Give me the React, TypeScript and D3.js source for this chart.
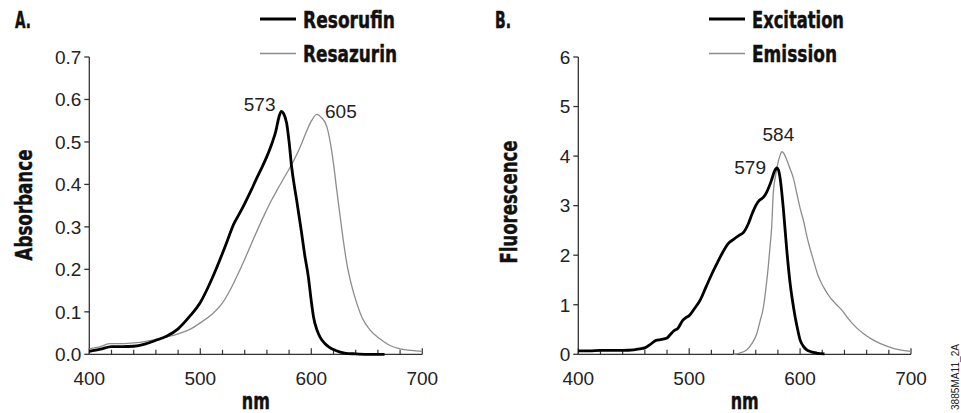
import React from "react";
import * as d3 from "d3";

const resorufinNm = [400, 410, 420, 430, 440, 450, 460, 470, 480, 490, 500, 510, 520, 525, 530, 535, 540, 546, 550, 555, 560, 565, 568, 571, 573, 575, 577.8, 580, 582.3, 584.5, 586.8, 589, 591.3, 594, 597.3, 600, 602, 605, 608, 612, 616, 622, 630, 640, 650, 666];
const resorufinAbs = [0.007, 0.012, 0.018, 0.018, 0.019, 0.024, 0.033, 0.043, 0.06, 0.088, 0.122, 0.175, 0.238, 0.272, 0.306, 0.33, 0.355, 0.387, 0.41, 0.437, 0.466, 0.5, 0.525, 0.56, 0.572, 0.567, 0.544, 0.5, 0.441, 0.4, 0.363, 0.325, 0.285, 0.235, 0.183, 0.125, 0.088, 0.058, 0.04, 0.026, 0.017, 0.009, 0.003, 0.001, 0, 0];

const resazurinNm = [400, 410, 418, 425, 440, 450, 460, 470, 480, 490, 500, 510, 520, 527, 535, 540, 545, 551, 558, 564, 569, 576, 584, 590, 596, 600, 605, 609, 614, 617, 620, 623, 626, 629, 632, 636, 641, 646, 653, 662, 670, 680, 690, 700];
const resazurinAbs = [0.013, 0.018, 0.025, 0.025, 0.027, 0.03, 0.035, 0.041, 0.048, 0.058, 0.074, 0.093, 0.121, 0.152, 0.195, 0.224, 0.254, 0.29, 0.33, 0.362, 0.386, 0.418, 0.455, 0.488, 0.527, 0.549, 0.565, 0.558, 0.536, 0.5, 0.449, 0.385, 0.324, 0.265, 0.214, 0.165, 0.12, 0.085, 0.057, 0.036, 0.022, 0.013, 0.009, 0.007];

const excitationNm = [400, 410, 420, 430, 440, 450, 455, 460, 465, 470, 475, 480, 483, 486, 490, 494, 497, 500, 505, 510, 515, 520, 525, 530, 535, 540, 545, 549, 553, 557, 560, 563, 567, 570, 574, 577, 579, 580.5, 582, 585, 588, 591, 593, 595.5, 598, 600, 603, 606, 610, 615, 622];
const excitationFl = [0.07, 0.07, 0.08, 0.08, 0.08, 0.09, 0.11, 0.13, 0.2, 0.28, 0.3, 0.33, 0.4, 0.47, 0.53, 0.68, 0.74, 0.78, 0.93, 1.1, 1.35, 1.6, 1.83, 2.05, 2.23, 2.32, 2.4, 2.46, 2.62, 2.85, 3.0, 3.1, 3.17, 3.28, 3.5, 3.7, 3.76, 3.72, 3.55, 2.91, 2.1, 1.43, 1.1, 0.76, 0.48, 0.29, 0.16, 0.09, 0.05, 0.025, 0.01];

const emissionNm = [540, 545, 552, 556, 561, 564, 567, 569, 571.3, 573, 574.4, 575.8, 578, 580, 582, 583.5, 585.5, 588, 591, 594, 597, 600, 603, 607, 612, 616, 621, 627, 633, 638, 642, 648, 657, 665, 672, 680, 690, 700];
const emissionFl = [0.0, 0.02, 0.09, 0.2, 0.42, 0.68, 0.96, 1.3, 1.77, 2.2, 2.58, 3.25, 3.62, 3.86, 4.02, 4.09, 4.05, 3.92, 3.74, 3.55, 3.25, 2.95, 2.7, 2.3, 1.9, 1.6, 1.36, 1.15, 1.0, 0.88, 0.76, 0.6, 0.42, 0.3, 0.22, 0.15, 0.09, 0.06];

const absTicks = [0, 0.1, 0.2, 0.3, 0.4, 0.5, 0.6, 0.7];
const flTicks = [0, 1, 2, 3, 4, 5, 6];
const nmLabels = [400, 500, 600, 700];

const BOLD = "'DejaVu Sans Condensed', 'DejaVu Sans', sans-serif";
const REG = "'Liberation Sans', Arial, sans-serif";
const AXIS = "#333";
const TEXT = "#222";
const GREY = "#8c8c8c";

type Series = { nm: number[]; v: number[]; color: string; width: number; name: string; nameLen: number };

function Bold(p: { x: number; y: number; len: number; children: string; transform?: string; anchor?: string }) {
  return (
    <text x={p.x} y={p.y} transform={p.transform} textAnchor={(p.anchor || "start") as any} fontFamily={BOLD} fontWeight="bold" fontSize={23} fill="#111" stroke="#111" strokeWidth={0.45} textLength={p.len} lengthAdjust="spacingAndGlyphs">
      {p.children}
    </text>
  );
}

function Panel(props: {
  x0: number; x1: number; y0: number; y1: number;
  yMax: number; yTicks: number[]; yFmt: (v: number) => string;
  yLabel: string; yLabelX: number; yLabelLen: number; yLabelY: number; letter: string; letterX: number;
  legendX: number; series: Series[];
  peaks: { text: string; x: number; y: number; anchor: string }[];
}) {
  const x = d3.scaleLinear().domain([400, 700]).range([props.x0, props.x1]);
  const y = d3.scaleLinear().domain([0, props.yMax]).range([props.y0, props.y1]);
  const xTicks = d3.range(400, 701, 20);
  const line = (s: Series) =>
    d3.line<number>().x((_, i) => x(s.nm[i])).y((d) => y(d)).curve(d3.curveMonotoneX)(s.v) || "";
  return (
    <g>
      <Bold x={props.letterX} y={28} len={16}>{props.letter}</Bold>
      {props.series.map((s, i) => (
        <g key={"lg" + i}>
          <line x1={props.legendX} x2={props.legendX + 36} y1={19 + i * 34.5} y2={19 + i * 34.5} stroke={s.color} strokeWidth={s.width} />
          <Bold x={props.legendX + 43} y={27.5 + i * 34.5} len={s.nameLen}>{s.name}</Bold>
        </g>
      ))}
      <line x1={props.x0} x2={props.x0} y1={y(0)} y2={y(props.yMax)} stroke={AXIS} strokeWidth={1.3} />
      {props.yTicks.map((t) => (
        <g key={"yt" + t}>
          <line x1={props.x0 - 5} x2={props.x0} y1={y(t)} y2={y(t)} stroke={AXIS} strokeWidth={1.3} />
          <text x={props.x0 - 8} y={y(t)} dy="0.36em" textAnchor="end" fontFamily={REG} fontSize={19} fill={TEXT}>{props.yFmt(t)}</text>
        </g>
      ))}
      <line x1={props.x0} x2={props.x1} y1={props.y0} y2={props.y0} stroke={AXIS} strokeWidth={1.3} />
      {xTicks.map((t) => (
        <line key={"xt" + t} x1={x(t)} x2={x(t)} y1={props.y0} y2={props.y0 - (t % 100 === 0 ? 6 : 4.5)} stroke={AXIS} strokeWidth={1.2} />
      ))}
      {nmLabels.map((t) => (
        <text key={"xl" + t} x={x(t)} y={385} textAnchor="middle" fontFamily={REG} fontSize={19} fill={TEXT}>{t}</text>
      ))}
      <Bold x={x(550)} y={409} len={28} anchor="middle">nm</Bold>
      <Bold x={0} y={0} len={props.yLabelLen} anchor="middle" transform={`translate(${props.yLabelX},${props.yLabelY}) rotate(-90)`}>{props.yLabel}</Bold>
      {props.series.slice().reverse().map((s, i) => (
        <path key={"s" + i} d={line(s)} fill="none" stroke={s.color} strokeWidth={s.width} strokeLinejoin="round" />
      ))}
      {props.peaks.map((p, i) => (
        <text key={"pk" + i} x={p.x} y={p.y} textAnchor={p.anchor as any} fontFamily={REG} fontSize={19} fill={TEXT}>{p.text}</text>
      ))}
    </g>
  );
}

export default function App() {
  return (
    <svg width={961} height={413} style={{ position: "absolute", left: 0, top: 0, background: "#fff" }}>
      <Panel
        x0={89.3} x1={422.3} y0={354.3} y1={57} yMax={0.7} yTicks={absTicks} yFmt={(v) => v.toFixed(1)}
        yLabel="Absorbance" yLabelX={32} yLabelY={205} yLabelLen={111} letter="A." letterX={15} legendX={260}
        series={[
          { nm: resorufinNm, v: resorufinAbs, color: "#000", width: 2.8, name: "Resorufin", nameLen: 92 },
          { nm: resazurinNm, v: resazurinAbs, color: GREY, width: 1.3, name: "Resazurin", nameLen: 94 },
        ]}
        peaks={[
          { text: "573", x: 275.5, y: 110.5, anchor: "end" },
          { text: "605", x: 325, y: 117.5, anchor: "start" },
        ]}
      />
      <Panel
        x0={578.3} x1={911} y0={354.3} y1={57} yMax={6} yTicks={flTicks} yFmt={(v) => String(v)}
        yLabel="Fluorescence" yLabelX={517} yLabelY={202} yLabelLen={123} letter="B." letterX={495} legendX={709}
        series={[
          { nm: excitationNm, v: excitationFl, color: "#000", width: 2.8, name: "Excitation", nameLen: 92 },
          { nm: emissionNm, v: emissionFl, color: GREY, width: 1.3, name: "Emission", nameLen: 85 },
        ]}
        peaks={[
          { text: "579", x: 766, y: 173.5, anchor: "end" },
          { text: "584", x: 762.5, y: 141, anchor: "start" },
        ]}
      />
      <text transform="translate(959,410) rotate(-90)" textAnchor="start" fontFamily={REG} fontSize={10} fill="#222" textLength={66} lengthAdjust="spacingAndGlyphs">3885MA11_2A</text>
    </svg>
  );
}
